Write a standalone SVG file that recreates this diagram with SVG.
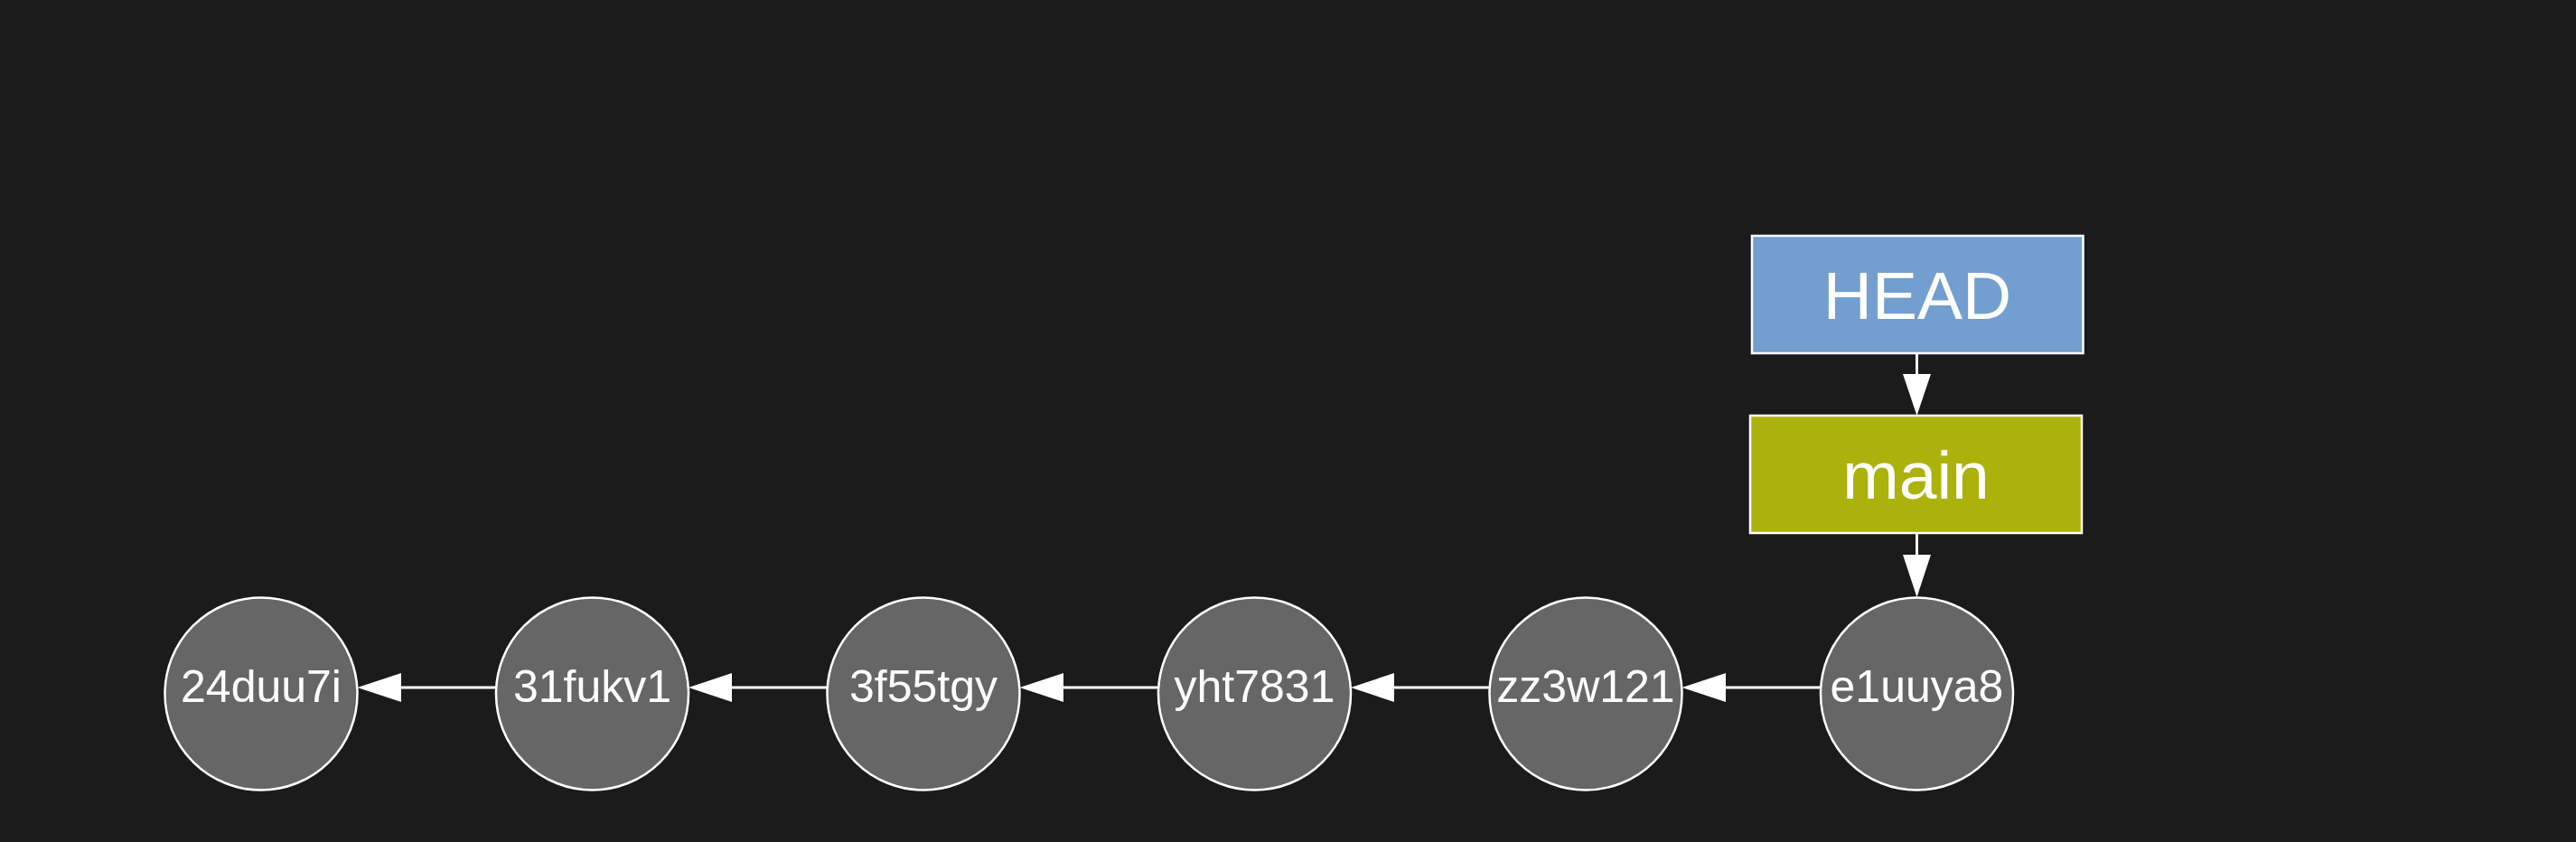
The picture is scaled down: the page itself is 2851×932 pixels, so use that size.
<svg xmlns="http://www.w3.org/2000/svg" width="2851" height="932" viewBox="0 0 2851 932">
<style>
.commit{fill:#666666;stroke:#ffffff;stroke-width:2.5}
.box{stroke:#ffffff;stroke-width:2.5}
.lbl{font-family:"Liberation Sans",Arial,sans-serif;fill:#ffffff;text-anchor:middle}
.small{font-size:50px}
.big{font-size:75px}
.edge{stroke:#ffffff;stroke-width:3;fill:none}
.head{fill:#ffffff}
</style>
<rect x="0" y="0" width="2851" height="932" fill="#1b1b1b"/>
<g id="edges">
<line class="edge" x1="443" y1="761" x2="549" y2="761"/>
<polygon class="head" points="395.5,761 444,745 444,777"/>
<line class="edge" x1="809" y1="761" x2="915.5" y2="761"/>
<polygon class="head" points="762,761 810,745 810,777"/>
<line class="edge" x1="1176" y1="761" x2="1282" y2="761"/>
<polygon class="head" points="1128.5,761 1177,745 1177,777"/>
<line class="edge" x1="1542" y1="761" x2="1648.5" y2="761"/>
<polygon class="head" points="1495,761 1543,745 1543,777"/>
<line class="edge" x1="1909" y1="761" x2="2015" y2="761"/>
<polygon class="head" points="1861.5,761 1910,745 1910,777"/>
<line class="edge" x1="2121.5" y1="391" x2="2121.5" y2="415"/>
<polygon class="head" points="2121.5,460 2106,414 2137,414"/>
<line class="edge" x1="2121.5" y1="590" x2="2121.5" y2="615"/>
<polygon class="head" points="2121.5,661 2106,614 2137,614"/>
</g>
<g id="c24duu7i"><circle class="commit" cx="289" cy="768" r="106.5"/><text class="lbl small" x="289" y="777">24duu7i</text></g>
<g id="c31fukv1"><circle class="commit" cx="655.5" cy="768" r="106.5"/><text class="lbl small" x="655.5" y="777">31fukv1</text></g>
<g id="c3f55tgy"><circle class="commit" cx="1022" cy="768" r="106.5"/><text class="lbl small" x="1022" y="777">3f55tgy</text></g>
<g id="cyht7831"><circle class="commit" cx="1388.5" cy="768" r="106.5"/><text class="lbl small" x="1388.5" y="777">yht7831</text></g>
<g id="czz3w121"><circle class="commit" cx="1755" cy="768" r="106.5"/><text class="lbl small" x="1755" y="777">zz3w121</text></g>
<g id="ce1uuya8"><circle class="commit" cx="2121.5" cy="768" r="106.5"/><text class="lbl small" x="2121.5" y="777">e1uuya8</text></g>
<g id="HEAD"><rect class="box" x="1939" y="261" width="366.5" height="130" fill="#729fcf"/><text class="lbl big" x="2122" y="353">HEAD</text></g>
<g id="main"><rect class="box" x="1937" y="460" width="367" height="130" fill="#acb20c"/><text class="lbl big" x="2120.5" y="552">main</text></g>
</svg>
